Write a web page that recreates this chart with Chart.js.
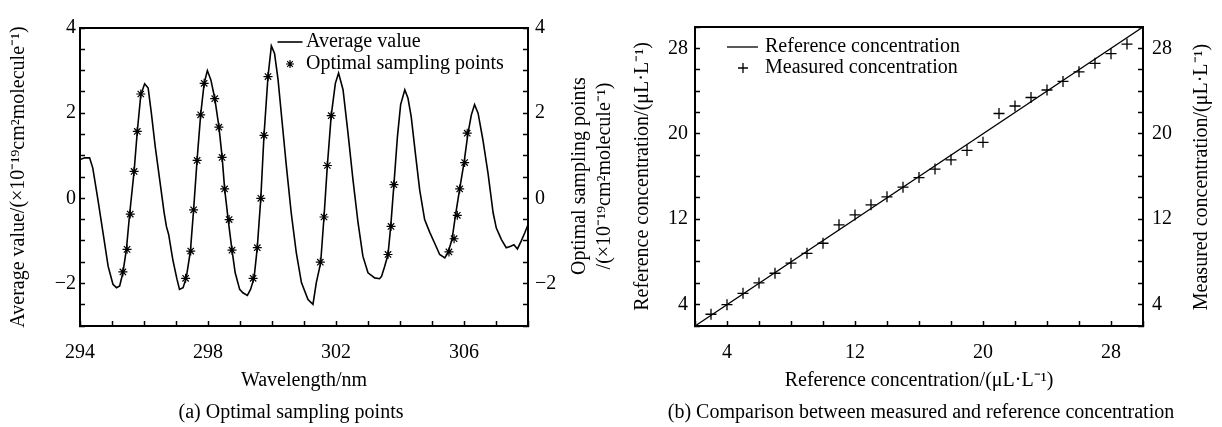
<!DOCTYPE html>
<html>
<head>
<meta charset="utf-8">
<script src="https://cdn.jsdelivr.net/npm/chart.js@4.4.1/dist/chart.umd.min.js"></script>
<style>
  html, body { margin: 0; padding: 0; background: #fff; }
  canvas { position: absolute; top: 0; }
  #left { left: 0; }
  #right { left: 620px; }
</style>
</head>
<body>
<canvas id="left" width="620" height="427"></canvas>
<canvas id="right" width="602" height="427"></canvas>
<script>
// (a) average absorption cross section and the chosen sampling points
const avgWavelength = [294.0, 294.15, 294.3, 294.4, 294.56, 294.72, 294.88, 295.03, 295.14, 295.24,
  295.34, 295.45, 295.55, 295.69, 295.79, 295.9, 296.02, 296.13, 296.23, 296.35,
  296.49, 296.63, 296.7, 296.77, 296.9, 297.03, 297.11, 297.22, 297.32, 297.45,
  297.55, 297.66, 297.77, 297.88, 297.98, 298.09, 298.21, 298.34, 298.44, 298.52,
  298.63, 298.75, 298.85, 298.99, 299.09, 299.23, 299.33, 299.44, 299.54, 299.65,
  299.75, 299.875, 299.98, 300.08, 300.19, 300.31, 300.45, 300.6, 300.76, 300.92,
  301.125, 301.28, 301.385, 301.52, 301.625, 301.73, 301.85, 301.98, 302.08, 302.22,
  302.375, 302.53, 302.69, 302.84, 303.0, 303.21, 303.36, 303.42, 303.52, 303.625,
  303.71, 303.81, 303.92, 304.02, 304.15, 304.25, 304.35, 304.48, 304.615, 304.77,
  304.93, 305.08, 305.24, 305.4, 305.5, 305.625, 305.73, 305.865, 306.0, 306.125,
  306.23, 306.33, 306.44, 306.59, 306.75, 306.91, 307.01, 307.17, 307.32, 307.46,
  307.56, 307.67, 307.79, 307.9, 308.0];
const avgValue = [0.91, 0.95, 0.95, 0.71, -0.03, -0.81, -1.6, -2.02, -2.1, -2.06,
  -1.75, -1.2, -0.38, 0.63, 1.57, 2.43, 2.69, 2.59, 2.0, 1.22,
  0.44, -0.34, -0.66, -0.85, -1.44, -1.9, -2.14, -2.1, -1.87, -1.24,
  -0.27, 0.91, 1.96, 2.7, 3.0, 2.78, 2.35, 1.69, 0.98, 0.22,
  -0.5, -1.22, -1.75, -2.14, -2.22, -2.28, -2.14, -1.87, -1.16, 0.0,
  1.48, 2.86, 3.58, 3.4, 2.78, 1.84, 0.75, -0.34, -1.28, -1.98,
  -2.38, -2.49, -1.98, -1.52, -0.44, 0.77, 1.94, 2.7, 2.94, 2.55,
  1.53, 0.44, -0.58, -1.36, -1.75, -1.87, -1.89, -1.84, -1.6, -1.32,
  -0.66, 0.32, 1.45, 2.2, 2.55, 2.35, 1.92, 1.06, 0.2, -0.5,
  -0.8, -1.05, -1.32, -1.4, -1.28, -0.97, -0.42, 0.22, 0.83, 1.53,
  1.96, 2.2, 2.0, 1.375, 0.59, -0.34, -0.7, -0.97, -1.16, -1.125,
  -1.09, -1.19, -1.0, -0.81, -0.62];
const optWavelength = [295.34, 295.47, 295.57, 295.69, 295.79, 295.9,
  297.3, 297.46, 297.55, 297.66, 297.77, 297.88,
  298.21, 298.34, 298.44, 298.52, 298.66, 298.75,
  299.41, 299.54, 299.65, 299.75, 299.875,
  301.51, 301.625, 301.73, 301.85,
  303.625, 303.72, 303.81,
  305.53, 305.69, 305.79, 305.865, 306.02, 306.1];
const optValue = [-1.73, -1.2, -0.37, 0.63, 1.57, 2.45,
  -1.88, -1.24, -0.27, 0.89, 1.96, 2.7,
  2.34, 1.67, 0.96, 0.22, -0.5, -1.22,
  -1.88, -1.16, 0.0, 1.48, 2.86,
  -1.5, -0.44, 0.77, 1.94,
  -1.32, -0.66, 0.32,
  -1.26, -0.95, -0.4, 0.22, 0.84, 1.53];
const wavelengthLabels = [294, 298, 302, 306];
const crossSectionLabels = [-2, 0, 2, 4];

// (b) measured vs reference concentration
const refLine = [2, 30];
const refConc = [3, 4, 5, 6, 7, 8, 9, 10, 11, 12, 13, 14, 15, 16, 17, 18, 19, 20,
  21, 22, 23, 24, 25, 26, 27, 28, 29];
const measuredConc = [3.1, 4.0, 5.06, 6.03, 6.94, 7.88, 8.81, 9.75, 11.47, 12.4,
  13.35, 14.1, 15.0, 15.9, 16.7, 17.56, 18.44, 19.2, 21.9, 22.6,
  23.4, 24.1, 24.9, 25.8, 26.6, 27.5, 28.4];
const concLabels = [4, 12, 20, 28];

Chart.defaults.font.family = '"Liberation Serif", "Times New Roman", serif';
Chart.defaults.font.size = 20;
Chart.defaults.color = '#000';

const fmt = v => (v < 0 ? '\u2212' + Math.abs(v) : String(v));

// linear axis with short inward ticks, labels only on the major values
function boxAxis(pos, min, max, step, labels, pad, size) {
  return {
    type: 'linear', position: pos, min: min, max: max,
    border: { color: '#000', width: 2 },
    grid: { drawOnChartArea: false, tickLength: -5, tickWidth: 1.5, tickColor: '#000' },
    ticks: {
      stepSize: step, autoSkip: false, maxRotation: 0, padding: pad, color: '#000',
      callback: v => (labels.includes(+(+v).toFixed(3)) ? fmt(v) : '')
    },
    afterFit: s => { if (pos === 'top' || pos === 'bottom') s.height = size; else s.width = size; }
  };
}
function topAxis(min, max) {
  return {
    type: 'linear', position: 'top', min: min, max: max,
    border: { color: '#000', width: 2 },
    grid: { drawOnChartArea: false, drawTicks: false },
    ticks: { display: false },
    afterFit: s => { s.height = 0; }
  };
}

// side titles, captions and the in-plot legend
const paperText = {
  id: 'paperText',
  afterDraw(chart, args, opts) {
    const ctx = chart.ctx;
    ctx.save();
    ctx.fillStyle = '#000';
    ctx.strokeStyle = '#000';
    ctx.font = '20px "Liberation Serif", "Times New Roman", serif';
    ctx.textBaseline = 'middle';
    (opts.texts || []).forEach(t => {
      ctx.save();
      ctx.translate(t.x, t.y);
      if (t.rotate) ctx.rotate(-Math.PI / 2);
      ctx.textAlign = 'center';
      ctx.fillText(t.text, 0, 0);
      ctx.restore();
    });
    (opts.legend || []).forEach(item => {
      const ds = chart.data.datasets[item.dataset];
      if (item.len) {
        ctx.lineWidth = ds.borderWidth;
        ctx.beginPath();
        ctx.moveTo(item.x - item.len / 2, item.y);
        ctx.lineTo(item.x + item.len / 2, item.y);
        ctx.stroke();
      } else {
        ctx.lineWidth = ds.borderWidth;
        Chart.helpers.drawPoint(ctx, { pointStyle: ds.pointStyle, radius: item.r, borderWidth: ds.borderWidth, rotation: 0 }, item.x, item.y);
      }
      ctx.textAlign = 'left';
      ctx.fillText(ds.label, item.tx, item.y);
    });
    ctx.restore();
  }
};

new Chart(document.getElementById('left'), {
  type: 'scatter',
  data: {
    datasets: [
      {
        label: 'Average value',
        data: avgWavelength.map((x, i) => ({ x: x, y: avgValue[i] })),
        showLine: true, pointRadius: 0, borderColor: '#000', borderWidth: 1.6, tension: 0
      },
      {
        label: 'Optimal sampling points',
        data: optWavelength.map((x, i) => ({ x: x, y: optValue[i] })),
        pointStyle: 'star', pointRadius: 4.5, borderColor: '#000', borderWidth: 1.2
      }
    ]
  },
  options: {
    responsive: false, animation: false, events: [],
    layout: { padding: { top: 28, left: 0, right: 0, bottom: 0 } },
    scales: {
      x: Object.assign(boxAxis('bottom', 294, 308, 1, wavelengthLabels, 20, 101), {
        title: { display: true, text: 'Wavelength/nm', padding: { bottom: 34 } }
      }),
      x2: topAxis(294, 308),
      y: Object.assign(boxAxis('left', -3, 4, 0.5, crossSectionLabels, 9, 80), {
        title: { display: true, text: 'Average value/(\u00d710\u207b\u00b9\u2079cm\u00b2molecule\u207b\u00b9)', padding: { top: 7 } }
      }),
      y2: boxAxis('right', -3, 4, 0.5, crossSectionLabels, 12, 92)
    },
    plugins: {
      legend: { display: false },
      tooltip: { enabled: false },
      paperText: {
        texts: [
          { text: 'Optimal sampling points', x: 580, y: 176, rotate: true },
          { text: '/(\u00d710\u207b\u00b9\u2079cm\u00b2molecule\u207b\u00b9)', x: 605, y: 176, rotate: true },
          { text: '(a) Optimal sampling points', x: 291, y: 413 }
        ],
        legend: [
          { dataset: 0, x: 290, y: 42, len: 25, tx: 306 },
          { dataset: 1, x: 290, y: 64, r: 4, tx: 306 }
        ]
      }
    }
  },
  plugins: [paperText]
});

new Chart(document.getElementById('right'), {
  type: 'scatter',
  data: {
    datasets: [
      {
        label: 'Reference concentration',
        data: refLine.map(v => ({ x: v, y: v })),
        showLine: true, pointRadius: 0, borderColor: '#000', borderWidth: 1.3
      },
      {
        label: 'Measured concentration',
        data: refConc.map((x, i) => ({ x: x, y: measuredConc[i] })),
        pointStyle: 'cross', pointRadius: 5.5, borderColor: '#000', borderWidth: 1.3
      }
    ]
  },
  options: {
    responsive: false, animation: false, events: [],
    layout: { padding: { top: 27, left: 0, right: 0, bottom: 0 } },
    scales: {
      x: Object.assign(boxAxis('bottom', 2, 30, 2, concLabels, 20, 101), {
        title: { display: true, text: 'Reference concentration/(\u03bcL\u00b7L\u207b\u00b9)', padding: { bottom: 34 } }
      }),
      x2: topAxis(2, 30),
      y: Object.assign(boxAxis('left', 2, 30, 2, concLabels, 12, 75), {
        title: { display: true, text: 'Reference concentration/(\u03bcL\u00b7L\u207b\u00b9)', padding: { top: 11 } }
      }),
      y2: boxAxis('right', 2, 30, 2, concLabels, 14, 79)
    },
    plugins: {
      legend: { display: false },
      tooltip: { enabled: false },
      paperText: {
        texts: [
          { text: 'Measured concentration/(\u03bcL\u00b7L\u207b\u00b9)', x: 582, y: 177, rotate: true },
          { text: '(b) Comparison between measured and reference concentration', x: 301, y: 413 }
        ],
        legend: [
          { dataset: 0, x: 122.5, y: 47, len: 31, tx: 145 },
          { dataset: 1, x: 123, y: 68, r: 5, tx: 145 }
        ]
      }
    }
  },
  plugins: [paperText]
});
</script>
</body>
</html>
